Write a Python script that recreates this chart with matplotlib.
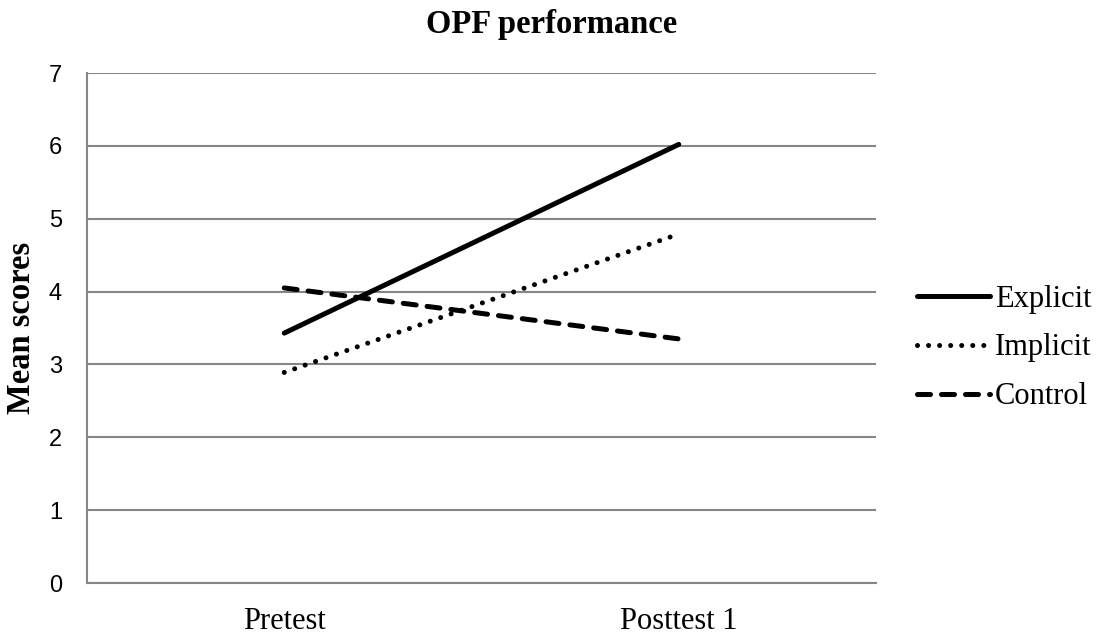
import matplotlib
matplotlib.use("Agg")
import matplotlib.pyplot as plt

# chart data
tests = ["Pretest", "Posttest 1"]
explicit = [3.43, 6.02]
implicit = [2.89, 4.79]
control = [4.05, 3.35]
y_ticks = [0, 1, 2, 3, 4, 5, 6, 7]

W, H = 1104, 636
fig = plt.figure(figsize=(W / 100, H / 100), dpi=100)
ax = fig.add_axes([87 / W, 1 - 583 / H, (876 - 87) / W, (583 - 73) / H])

grid_col = "#868686"
serif = "Liberation Serif"

x = list(range(len(tests)))
ax.plot(x, explicit, color="black", lw=3.6, solid_capstyle="round", label="Explicit", zorder=3)
ax.plot(x, implicit, color="black", lw=3.6, linestyle=(0, (0.01, 2.2)),
        dash_capstyle="round", label="Implicit", zorder=3)
ax.plot(x, control, color="black", lw=3.6, linestyle=(0, (2.6, 2.2)),
        dash_capstyle="round", label="Control", zorder=3)

ax.set_xlim(-0.5, 1.5)
ax.set_ylim(0, 7)
ax.set_yticks(y_ticks)
ax.set_xticks(x)
ax.set_xticklabels(tests, fontfamily=serif, fontsize=22)
for lbl in ax.get_yticklabels():
    lbl.set_fontfamily("Liberation Sans")
    lbl.set_fontsize(17)
ax.tick_params(axis="both", length=0)
ax.tick_params(axis="y", pad=18)
ax.tick_params(axis="x", pad=17)

ax.grid(axis="y", color=grid_col, lw=1.5)
ax.set_axisbelow(True)
for side in ["top", "right"]:
    ax.spines[side].set_visible(False)
for side in ["left", "bottom"]:
    ax.spines[side].set_color(grid_col)
    ax.spines[side].set_linewidth(1.5)

fig.text(0.5, 1 - 33 / H, "OPF performance", ha="center", va="baseline",
         fontfamily=serif, fontweight="bold", fontsize=23.5)
fig.text(22 / W, 1 - 328 / H, "Mean scores", ha="center", va="center", rotation=90,
         fontfamily=serif, fontweight="bold", fontsize=23.5)

leg = ax.legend(loc="center left", bbox_to_anchor=(917 / W, 1 - 348 / H),
                bbox_transform=fig.transFigure, frameon=False, borderpad=0,
                borderaxespad=0, handlelength=2.4, handletextpad=0.15,
                labelspacing=0.65, prop={"family": serif, "size": 22})

fig.savefig("out.png", dpi=100)
